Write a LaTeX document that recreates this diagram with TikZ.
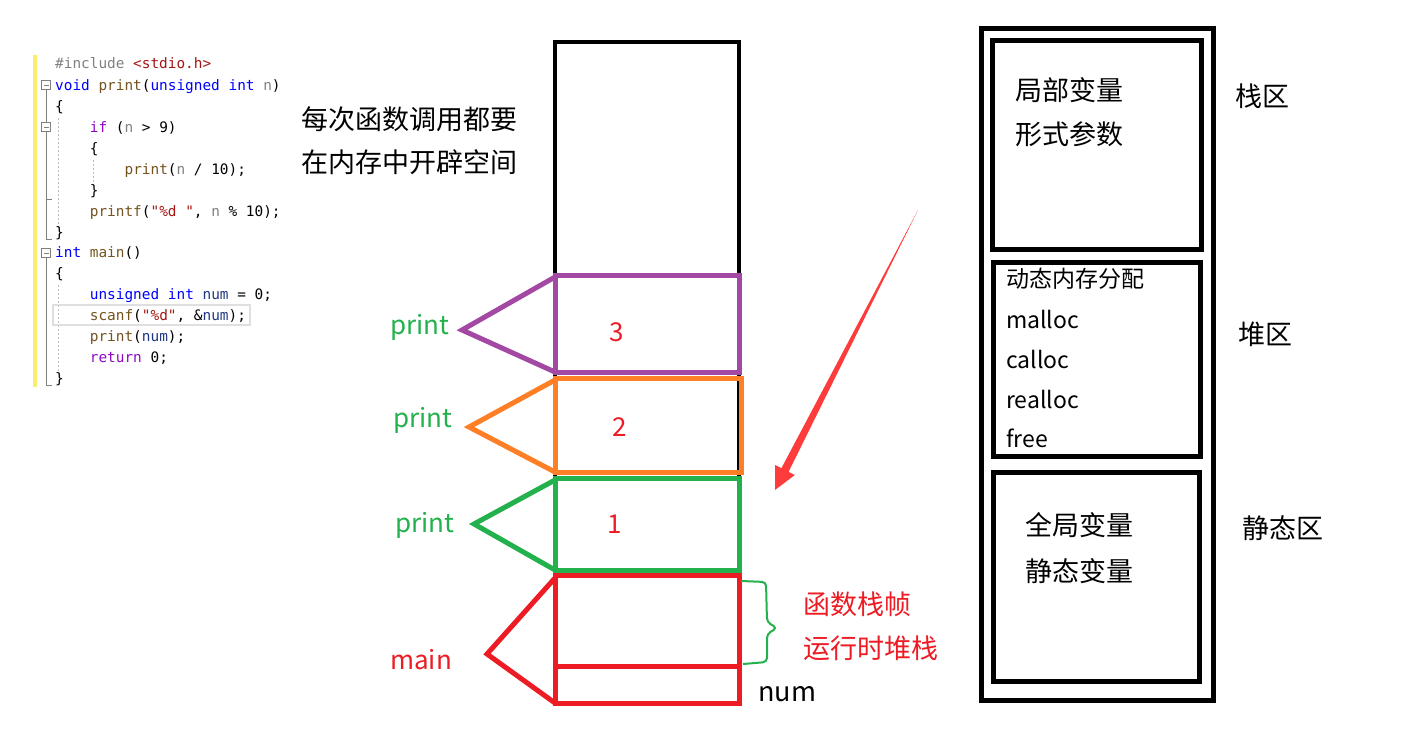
\documentclass[tikz,border=0pt]{standalone}
\usepackage{fontspec}
\setmainfont{Noto Sans CJK SC}
\setmonofont{DejaVu Sans Mono}
\usetikzlibrary{decorations.pathreplacing}
\definecolor{cgray}{RGB}{128,128,128}
\definecolor{cstr}{RGB}{163,21,21}
\definecolor{ckw}{RGB}{0,0,255}
\definecolor{cfn}{RGB}{116,83,31}
\definecolor{cctl}{RGB}{143,8,196}
\definecolor{cvar}{RGB}{31,55,127}
\definecolor{fpurple}{RGB}{163,73,164}
\definecolor{forange}{RGB}{255,127,39}
\definecolor{fgreen}{RGB}{34,177,76}
\definecolor{fred}{RGB}{237,28,36}
\definecolor{arrred}{RGB}{255,60,60}
\definecolor{yellowbar}{RGB}{250,238,110}
\newcommand\ckw[1]{\textcolor{ckw}{#1}}
\newcommand\cfn[1]{\textcolor{cfn}{#1}}
\newcommand\cpa[1]{\textcolor{cgray}{#1}}
\newcommand\cct[1]{\textcolor{cctl}{#1}}
\newcommand\cst[1]{\textcolor{cstr}{#1}}
\newcommand\cva[1]{\textcolor{cvar}{#1}}
\tikzset{
  code/.style={anchor=base west, inner sep=0pt, font=\ttfamily\fontsize{14.4bp}{17bp}\selectfont},
  big/.style={anchor=west, inner sep=0pt, font=\fontsize{26bp}{30bp}\selectfont},
  cjk/.style={anchor=west, inner sep=0pt, font=\fontsize{27bp}{31bp}\selectfont},
  mid/.style={anchor=west, inner sep=0pt, font=\fontsize{23bp}{27bp}\selectfont},
  framebk/.style={draw=black, line width=4bp},
  boxbk/.style={draw=black, line width=5bp},
  fr/.style={line width=5bp, line join=miter},
  gut/.style={draw=cgray, line width=1bp},
  guide/.style={draw=gray!50, line width=1bp, dash pattern=on 2bp off 2bp},
}
\begin{document}
\begin{tikzpicture}[x=1bp,y=-1bp]
\useasboundingbox (0,0) rectangle (1404,751);
% ---------- code panel ----------
\fill[fill=yellowbar] (33,55) rectangle (37,387);
\draw[gut] (41.5,80.5) rectangle (50.5,89.5) (43.5,85)--(48.5,85);
\draw[gut] (41.5,122.5) rectangle (50.5,131.5) (43.5,127)--(48.5,127);
\draw[gut] (41.5,248.5) rectangle (50.5,257.5) (43.5,253)--(48.5,253);
\draw[gut] (46,89.5)--(46,122.5) (46,131.5)--(46,239)--(52,239) (46,199)--(52,199);
\draw[gut] (46,257.5)--(46,385)--(52,385);
\draw[guide] (58,118)--(58,230) (93,160)--(93,187) (58,285)--(58,372);
\draw[gray!25, line width=1.5bp] (53,305) rectangle (250,325);
\node[code] (l1) at (55,69) {\cpa{\#include} \cst{<stdio.h>}};
\node[code] (l2) at (55,90) {\ckw{void} \cfn{print}(\ckw{unsigned} \ckw{int} \cpa{n})};
\node[code] (l3) at (55,111) {\{};
\node[code] (l4) at (89.7,132) {\cct{if} (\cpa{n} > 9)};
\node[code] (l5) at (89.7,153) {\{};
\node[code] (l6) at (124.4,174) {\cfn{print}(\cpa{n} / 10);};
\node[code] (l7) at (89.7,195) {\}};
\node[code] (l8) at (89.7,216) {\cfn{printf}(\cst{"\%d "}, \cpa{n} \% 10);};
\node[code] (l9) at (55,237) {\}};
\node[code] (l10) at (55,257) {\ckw{int} \cfn{main}()};
\node[code] (l11) at (55,278) {\{};
\node[code] (l12) at (89.7,299) {\ckw{unsigned} \ckw{int} \cva{num} = 0;};
\node[code] (l13) at (89.7,320) {\cfn{scanf}(\cst{"\%d"}, \&\cva{num});};
\node[code] (l14) at (89.7,341) {\cfn{print}(\cva{num});};
\node[code] (l15) at (89.7,362) {\cct{return} 0;};
\node[code] (l16) at (55,383) {\}};
% ---------- note ----------
\node[cjk] (note1) at (301,119) {每次函数调用都要};
\node[cjk] (note2) at (301,162) {在内存中开辟空间};
% ---------- stack column ----------
\draw[framebk] (555,42) rectangle (739,703);
\draw[fr, fpurple] (555,275) rectangle (739,372);
\draw[fr, fpurple] (555,277)--(462,330)--(555,372);
\draw[fr, forange] (555,378) rectangle (741,472);
\draw[fr, forange] (555,380)--(469,427)--(555,472);
\draw[fr, fgreen] (555,478) rectangle (739,570);
\draw[fr, fgreen] (555,480)--(474,524)--(555,570);
\draw[fr, fred] (555,575) rectangle (739,703);
\draw[fr, fred] (555,666)--(739,666);
\draw[fr, fred] (555,578)--(487,654)--(555,703);
\node[big, anchor=center, text=fred] (n3) at (617,332) {3};
\node[big, anchor=center, text=fred] (n2) at (620,427) {2};
\node[big, anchor=center, text=fred] (n1) at (615,524) {1};
\node[big, text=fgreen] (p3) at (390,327) {print};
\node[big, text=fgreen] (p2) at (393,420) {print};
\node[big, text=fgreen] (p1) at (395,525) {print};
\node[big, text=fred] (pm) at (390,660) {main};
\node[cjk] (num) at (758,694) {num};
% brace
\draw[fgreen, line width=2bp, rounded corners=4bp] (741,581) -- (766,582) -- (767,622) -- (777,628) -- (767,634) -- (767,662) -- (743,664);
\node[cjk, text=fred] (sf1) at (803,604) {函数栈帧};
\node[cjk, text=fred] (sf2) at (803,648) {运行时堆栈};
% red arrow
\coordinate (aT) at (918,210);
\coordinate (aTip) at (775,490);
\fill[arrred] (aT) -- (788.6,471.8) -- (794.8,475) -- (aTip) -- (775.2,465) -- (781.4,468.2) -- cycle;
% ---------- memory layout ----------
\draw[boxbk] (981,29) rectangle (1213,700);
\draw[boxbk] (992,41) rectangle (1201,249);
\draw[boxbk] (993,262) rectangle (1200,456);
\draw[boxbk] (993,472) rectangle (1199,681);
\node[cjk] (s1) at (1015,90) {局部变量};
\node[cjk] (s2) at (1015,134) {形式参数};
\node[cjk] (sz) at (1235,96) {栈区};
\node[mid] (h0) at (1006,279) {动态内存分配};
\node[mid] (h1) at (1006,319) {malloc};
\node[mid] (h2) at (1006,359) {calloc};
\node[mid] (h3) at (1006,399) {realloc};
\node[mid] (h4) at (1006,438) {free};
\node[cjk] (hz) at (1238,334) {堆区};
\node[cjk] (g1) at (1025,525) {全局变量};
\node[cjk] (g2) at (1025,571) {静态变量};
\node[cjk] (gz) at (1242,528) {静态区};
\end{tikzpicture}
\end{document}
